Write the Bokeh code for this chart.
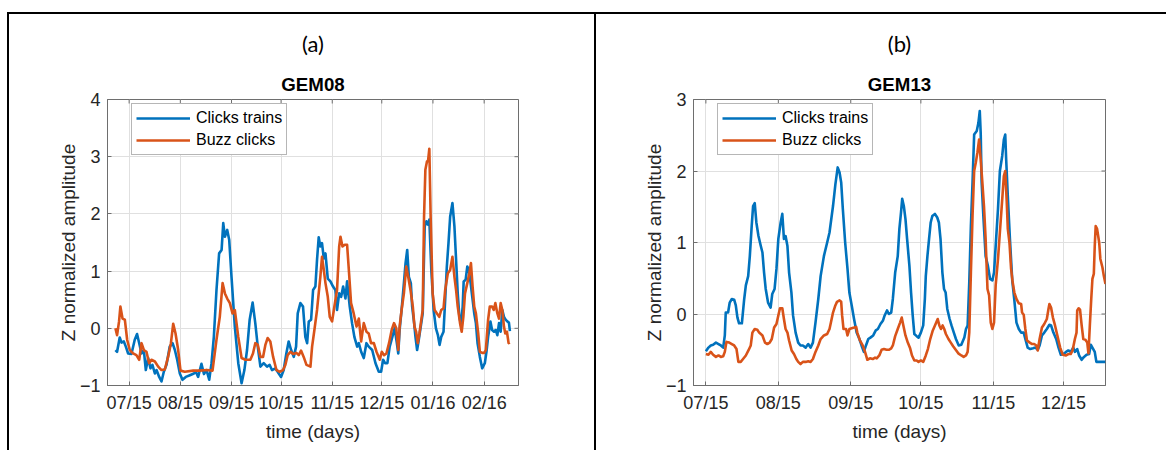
import math

import pandas as pd
from bokeh.embed import file_html
from bokeh.layouts import row
from bokeh.models import (ColumnDataSource, FixedTicker, Legend, LegendItem,
                          Range1d, Title)
from bokeh.plotting import figure
from bokeh.resources import INLINE

# ---------------------------------------------------------------- data
# Days are counted from 1 July 2015; values are z-normalised amplitudes.
DAY0 = "2015-07-01"

gem08_months = ["2015-07-01", "2015-08-01", "2015-09-01", "2015-10-01",
                "2015-11-01", "2015-12-01", "2016-01-01", "2016-02-01"]
gem08_month_labels = ["07/15", "08/15", "09/15", "10/15",
                      "11/15", "12/15", "01/16", "02/16"]
gem13_months = ["2015-07-01", "2015-08-01", "2015-09-01", "2015-10-01",
                "2015-11-01", "2015-12-01"]
gem13_month_labels = ["07/15", "08/15", "09/15", "10/15", "11/15", "12/15"]

gem08_ticks_z = [-1, 0, 1, 2, 3, 4]
gem13_ticks_z = [-1, 0, 1, 2, 3]

# GEM08 - click trains (day, z)
gem08_trains = [
    (-8.3, -0.38), (-7.3, -0.41), (-5.7, -0.16), (-4.6, -0.25), (-3.2, -0.23),
    (-2.0, -0.32), (-0.6, -0.44), (1.4, -0.45), (3.4, -0.20), (4.8, -0.10),
    (6.1, -0.26), (7.5, -0.44), (8.9, -0.38), (10.1, -0.73), (11.5, -0.52),
    (12.9, -0.70), (14.1, -0.64), (15.6, -0.79), (16.6, -0.73), (18.2, -0.85),
    (19.6, -0.93), (21.0, -0.76), (22.6, -0.64), (24.6, -0.32), (26.3, -0.26),
    (27.7, -0.38), (29.1, -0.55), (30.7, -0.79), (32.3, -0.90), (34.3, -0.85),
    (36.8, -0.82), (39.2, -0.79), (40.4, -0.76), (41.8, -0.85), (43.8, -0.62),
    (45.3, -0.80), (46.9, -0.73), (48.5, -0.90), (49.9, -0.61), (51.3, -0.15),
    (52.9, 0.67), (54.5, 1.31), (56.0, 1.37), (57.0, 1.84), (58.0, 1.60),
    (59.4, 1.72), (60.6, 1.55), (62.0, 0.90), (64.0, 0.03), (66.1, -0.61),
    (68.1, -0.96), (69.8, -0.73), (71.4, -0.38), (73.0, 0.15), (74.8, 0.45),
    (76.4, 0.09), (77.9, -0.32), (79.5, -0.67), (81.5, -0.61), (83.5, -0.67),
    (85.1, -0.64), (86.5, -0.73), (88.6, -0.70), (90.6, -0.79), (92.0, -0.85),
    (93.6, -0.73), (95.2, -0.44), (96.6, -0.23), (98.1, -0.38), (99.7, -0.50),
    (101.1, -0.32), (102.1, 0.26), (103.7, 0.44), (105.3, 0.38), (106.7, -0.15),
    (107.8, -0.26), (108.8, 0.12), (110.2, 0.15), (111.4, 0.67), (112.8, 0.73),
    (113.8, 1.20), (114.8, 1.59), (115.8, 1.43), (116.8, 1.49), (117.9, 1.22),
    (118.9, 1.31), (120.3, 0.87), (121.9, 0.82), (123.5, 0.73), (124.9, 0.67),
    (125.9, 0.32), (127.2, 0.61), (128.4, 0.55), (129.6, 0.73), (131.0, 0.52),
    (132.0, 0.82), (133.6, 0.38), (135.0, 0.09), (136.4, -0.15), (138.1, -0.32),
    (139.1, -0.26), (140.5, -0.41), (142.1, -0.52), (143.7, -0.26), (145.1, -0.32),
    (147.2, -0.38), (149.2, -0.61), (151.2, -0.76), (152.6, -0.76), (153.8, -0.55),
    (155.0, -0.61), (156.4, -0.61), (157.8, -0.32), (159.4, -0.15), (160.8, 0.00),
    (162.0, -0.23), (163.0, -0.44), (163.8, -0.03), (165.0, 0.32), (166.4, 0.79),
    (167.4, 1.14), (168.4, 1.37), (169.4, 0.90), (170.6, 0.79), (171.4, 0.38),
    (172.6, 0.09), (173.4, -0.15), (174.4, -0.38), (175.4, -0.20), (176.6, 0.03),
    (177.8, 0.26), (179.0, 1.78), (180.0, 1.87), (181.0, 1.81), (181.8, 1.90),
    (183.0, 1.02), (184.4, 0.32), (185.8, 0.00), (187.0, -0.12), (188.0, -0.29),
    (189.0, -0.15), (190.4, -0.06), (191.4, 0.50), (192.4, 1.08), (193.4, 1.49),
    (194.4, 1.95), (195.8, 2.19), (197.0, 1.78), (198.0, 1.20), (199.0, 0.61),
    (200.0, 0.20), (201.0, 0.06), (202.0, 0.38), (202.6, 0.82), (203.8, 0.85),
    (204.8, 1.08), (205.8, 1.02), (206.8, 0.79), (207.8, 0.55), (209.0, 0.26),
    (210.0, 0.09), (211.0, -0.26), (212.4, -0.50), (213.8, -0.70), (215.4, -0.61),
    (216.4, -0.41), (217.4, -0.15), (218.8, 0.12), (219.8, -0.03), (221.0, -0.06),
    (222.0, -0.03), (223.0, -0.12), (224.0, 0.09), (225.0, -0.06), (226.0, 0.32),
    (227.0, 0.20), (228.0, 0.15), (229.0, 0.12), (230.0, 0.10), (230.6, -0.05),
]

# GEM08 - buzz clicks (day, z)
gem08_buzz = [
    (-8.3, 0.00), (-7.3, -0.12), (-6.1, 0.12), (-5.3, 0.38), (-4.0, 0.17),
    (-2.6, 0.15), (-1.2, -0.20), (0.4, -0.38), (2.4, -0.44), (4.4, -0.47),
    (6.1, -0.55), (7.5, -0.26), (8.9, -0.38), (10.5, -0.41), (12.1, -0.61),
    (13.5, -0.55), (15.6, -0.58), (17.6, -0.67), (19.6, -0.73), (21.6, -0.72),
    (23.6, -0.50), (25.3, -0.26), (26.7, 0.08), (28.1, -0.09), (29.7, -0.38),
    (31.1, -0.74), (33.7, -0.76), (38.8, -0.74), (42.8, -0.74), (46.9, -0.73),
    (50.5, -0.74), (52.9, -0.20), (54.9, 0.20), (56.6, 0.79), (58.0, 0.61),
    (59.4, 0.52), (61.0, 0.44), (62.6, 0.26), (64.0, 0.32), (66.1, -0.15),
    (68.1, -0.52), (70.4, -0.55), (73.4, -0.55), (75.0, -0.44), (76.4, -0.26),
    (77.9, -0.29), (79.5, -0.50), (81.1, -0.50), (82.5, -0.29), (83.9, -0.17),
    (85.5, -0.23), (87.2, -0.50), (89.2, -0.73), (91.2, -0.76), (93.2, -0.73),
    (94.6, -0.64), (96.0, -0.47), (97.7, -0.41), (99.3, -0.45), (101.3, -0.43),
    (102.7, -0.47), (104.1, -0.39), (105.7, -0.50), (107.4, -0.64), (109.8, -0.67),
    (110.8, -0.32), (112.2, -0.03), (113.8, 0.32), (115.8, 0.90), (116.8, 1.25),
    (117.9, 1.02), (118.9, 0.79), (120.3, 0.55), (121.5, 0.20), (122.9, 0.12),
    (124.3, 0.38), (125.9, 0.67), (127.2, 1.43), (128.0, 1.60), (129.2, 1.43),
    (130.6, 1.46), (132.0, 1.46), (133.2, 0.96), (134.4, 0.44), (136.0, 0.26),
    (137.7, 0.03), (139.1, 0.17), (140.5, -0.23), (142.1, 0.09), (143.7, -0.06),
    (145.1, -0.09), (146.5, -0.26), (148.2, -0.26), (149.8, -0.41), (151.8, -0.55),
    (153.0, -0.41), (154.4, -0.47), (155.8, -0.44), (157.4, -0.26), (159.0, -0.03),
    (160.4, 0.09), (161.8, 0.00), (163.0, -0.38), (163.8, 0.03), (165.0, 0.32),
    (166.4, 0.61), (167.8, 1.08), (169.0, 0.90), (170.4, 0.67), (171.8, 0.38),
    (172.8, 0.03), (173.8, -0.06), (174.8, -0.26), (175.8, -0.09), (176.8, 0.12),
    (177.8, 0.32), (178.6, 1.95), (179.4, 2.77), (180.4, 2.92), (181.0, 2.92),
    (181.8, 3.14), (182.6, 1.95), (183.8, 0.61), (185.0, 0.32), (186.4, 0.26),
    (187.8, 0.20), (189.0, 0.32), (190.4, 0.35), (191.4, 0.67), (193.0, 0.96),
    (194.4, 1.02), (195.8, 1.25), (197.0, 0.90), (198.0, 0.67), (199.0, 0.38),
    (200.4, 0.09), (201.4, -0.06), (202.4, 0.20), (203.4, 0.61), (204.8, 0.79),
    (206.0, 0.96), (207.0, 1.14), (208.0, 0.73), (209.0, 0.38), (210.0, 0.26),
    (211.4, -0.09), (212.4, -0.41), (213.8, -0.43), (215.0, -0.43), (216.0, -0.38),
    (217.4, 0.15), (218.4, 0.38), (219.8, 0.38), (220.8, 0.32), (221.8, 0.44),
    (223.0, 0.26), (224.0, 0.17), (225.0, 0.44), (226.0, 0.32), (227.0, 0.03),
    (227.8, -0.09), (228.8, -0.06), (229.8, -0.26), (230.6, -0.25),
]

# GEM13 - click trains (day, z)
gem13_trains = [
    (0.0, -0.52), (1.1, -0.47), (2.1, -0.44), (3.1, -0.43), (4.3, -0.40),
    (5.4, -0.42), (6.4, -0.44), (7.4, -0.47), (8.1, -0.30), (8.5, 0.02),
    (9.5, 0.02), (10.2, 0.16), (11.1, 0.21), (12.1, 0.20), (12.8, 0.12),
    (13.5, -0.05), (14.2, -0.13), (15.4, -0.13), (16.4, 0.21), (17.1, 0.40),
    (18.1, 0.53), (18.8, 0.81), (19.6, 1.23), (20.2, 1.51), (20.9, 1.55),
    (21.6, 1.28), (22.5, 1.09), (23.5, 0.95), (24.2, 0.86), (24.9, 0.58),
    (25.6, 0.35), (26.6, 0.16), (27.7, 0.09), (28.4, 0.28), (29.4, 0.35),
    (30.2, 0.63), (31.0, 1.05), (32.0, 1.28), (32.7, 1.40), (33.4, 1.05),
    (34.1, 1.09), (34.9, 0.95), (35.6, 0.58), (36.6, 0.30), (37.3, -0.02),
    (38.4, -0.26), (39.5, -0.40), (40.5, -0.44), (41.5, -0.44), (42.7, -0.47),
    (43.8, -0.42), (44.8, -0.47), (45.8, -0.40), (46.9, -0.12), (48.1, 0.21),
    (49.1, 0.53), (50.5, 0.81), (51.9, 1.00), (52.9, 1.14), (54.4, 1.51),
    (55.4, 1.81), (56.4, 2.05), (57.2, 1.98), (57.9, 1.84), (58.6, 1.47),
    (59.6, 1.00), (60.6, 0.63), (61.4, 0.30), (62.4, 0.12), (63.4, -0.07),
    (64.5, -0.26), (65.7, -0.35), (66.6, -0.44), (67.6, -0.53), (68.5, -0.44),
    (69.5, -0.35), (70.4, -0.33), (71.6, -0.30), (72.7, -0.23), (73.6, -0.21),
    (74.7, -0.14), (75.8, -0.09), (76.5, -0.02), (77.5, 0.05), (78.3, 0.00),
    (79.3, 0.02), (80.0, 0.21), (81.0, 0.58), (82.1, 0.81), (82.8, 1.19),
    (83.5, 1.42), (84.0, 1.61), (84.7, 1.51), (85.4, 1.33), (86.1, 1.05),
    (87.1, 0.67), (87.8, 0.30), (88.5, -0.02), (89.2, -0.28), (90.2, -0.31),
    (91.0, -0.33), (92.0, -0.26), (93.0, -0.16), (93.7, 0.21), (94.1, 0.53),
    (94.8, 0.81), (95.5, 1.05), (96.2, 1.28), (96.9, 1.37), (98.0, 1.40),
    (99.0, 1.35), (99.7, 1.28), (100.4, 1.05), (101.2, 0.58), (101.9, 0.35),
    (102.6, 0.30), (103.3, 0.07), (104.3, -0.07), (105.1, -0.16), (106.1, -0.26),
    (107.0, -0.35), (108.2, -0.44), (109.3, -0.43), (110.6, -0.33), (111.3, -0.21),
    (112.0, -0.16), (112.7, 0.44), (113.4, 1.23), (114.1, 1.84), (114.8, 2.51),
    (115.9, 2.56), (116.6, 2.67), (117.2, 2.84), (117.6, 2.53), (118.0, 1.84),
    (118.8, 1.33), (119.7, 0.81), (120.7, 0.67), (121.6, 0.49), (122.6, 0.47),
    (123.3, 0.58), (124.0, 0.95), (125.0, 1.47), (125.8, 2.00), (126.8, 2.21),
    (127.5, 2.44), (128.1, 2.51), (128.5, 2.16), (129.2, 1.65), (130.1, 1.05),
    (131.1, 0.47), (132.0, 0.19), (132.9, -0.12), (133.9, -0.21), (134.9, -0.26),
    (136.0, -0.26), (136.7, -0.35), (137.7, -0.47), (138.8, -0.49), (140.0, -0.48),
    (141.0, -0.47), (142.0, -0.50), (142.8, -0.44), (143.8, -0.30), (144.8, -0.26),
    (145.9, -0.21), (147.0, -0.15), (147.7, -0.16), (148.7, -0.26), (149.9, -0.35),
    (150.9, -0.47), (151.9, -0.57), (153.0, -0.56), (154.1, -0.53), (155.1, -0.51),
    (156.1, -0.53), (157.2, -0.47), (157.9, -0.53), (158.9, -0.49), (159.7, -0.58),
    (160.8, -0.64), (161.8, -0.60), (162.9, -0.57), (164.0, -0.56), (164.7, -0.43),
    (165.4, -0.47), (166.4, -0.53), (167.1, -0.67), (168.5, -0.67), (171.0, -0.67),
]

# GEM13 - buzz clicks (day, z)
gem13_buzz = [
    (0.0, -0.56), (1.1, -0.57), (2.1, -0.53), (3.1, -0.57), (4.3, -0.60),
    (5.4, -0.58), (6.4, -0.60), (7.4, -0.59), (8.1, -0.53), (8.8, -0.39),
    (10.0, -0.40), (11.1, -0.42), (12.1, -0.44), (13.1, -0.49), (13.9, -0.67),
    (14.9, -0.67), (15.9, -0.63), (17.1, -0.58), (18.2, -0.51), (19.2, -0.44),
    (19.9, -0.26), (20.9, -0.21), (22.0, -0.22), (22.8, -0.26), (24.2, -0.30),
    (25.3, -0.40), (26.3, -0.42), (27.3, -0.40), (28.2, -0.35), (29.2, -0.19),
    (30.2, -0.14), (31.0, -0.02), (31.7, 0.08), (32.7, 0.08), (33.4, -0.07),
    (34.1, -0.21), (34.9, -0.26), (35.6, -0.37), (36.7, -0.51), (37.7, -0.56),
    (38.7, -0.63), (39.5, -0.67), (40.5, -0.70), (41.5, -0.67), (42.7, -0.67),
    (43.8, -0.66), (44.8, -0.67), (45.8, -0.63), (46.9, -0.53), (48.1, -0.44),
    (49.1, -0.35), (50.5, -0.30), (51.9, -0.28), (52.9, -0.21), (53.5, -0.12),
    (54.4, 0.02), (55.4, 0.12), (56.1, 0.17), (57.2, 0.19), (57.9, 0.17),
    (58.3, -0.02), (58.9, -0.21), (60.0, -0.21), (60.6, -0.30), (61.4, -0.21),
    (62.4, -0.20), (63.4, -0.19), (64.3, -0.18), (64.8, -0.26), (65.9, -0.37),
    (67.1, -0.44), (68.1, -0.53), (69.1, -0.64), (70.2, -0.62), (71.4, -0.63),
    (72.4, -0.61), (73.1, -0.62), (74.2, -0.58), (75.2, -0.50), (76.2, -0.49),
    (77.3, -0.50), (78.4, -0.50), (79.3, -0.48), (80.0, -0.44), (81.0, -0.31),
    (82.1, -0.21), (83.1, -0.12), (83.8, -0.05), (84.5, -0.16), (85.4, -0.30),
    (86.4, -0.40), (87.4, -0.48), (88.2, -0.58), (89.2, -0.65), (90.2, -0.65),
    (91.0, -0.67), (92.0, -0.65), (93.0, -0.67), (94.1, -0.58), (95.0, -0.49),
    (96.0, -0.35), (97.1, -0.23), (98.3, -0.14), (99.2, -0.07), (99.9, -0.16),
    (100.6, -0.21), (101.3, -0.16), (102.0, -0.21), (102.7, -0.28), (103.8, -0.35),
    (104.8, -0.40), (105.8, -0.45), (106.9, -0.50), (108.0, -0.55), (109.3, -0.58),
    (110.3, -0.60), (111.3, -0.58), (112.0, -0.53), (112.7, -0.26), (113.4, 0.58),
    (114.1, 1.37), (114.8, 2.00), (115.5, 2.12), (116.2, 2.26), (116.9, 2.44),
    (117.6, 2.16), (118.3, 1.84), (119.0, 1.51), (119.7, 1.05), (120.5, 0.35),
    (121.2, 0.26), (121.9, -0.12), (122.6, -0.21), (123.3, -0.12), (124.0, 0.40),
    (125.0, 0.77), (125.8, 1.14), (126.8, 1.60), (127.5, 1.93), (128.1, 2.00),
    (128.7, 1.60), (129.2, 1.19), (129.9, 1.00), (130.6, 0.63), (131.3, 0.44),
    (132.0, 0.30), (132.9, 0.21), (133.9, 0.15), (134.9, 0.14), (135.3, 0.02),
    (136.0, -0.01), (136.7, -0.21), (137.4, -0.37), (138.6, -0.40), (139.6, -0.42),
    (140.5, -0.42), (141.4, -0.44), (142.0, -0.51), (142.8, -0.35), (143.8, -0.19),
    (144.8, -0.14), (145.9, -0.07), (146.6, 0.07), (147.0, 0.14), (147.7, 0.09),
    (148.5, -0.05), (149.4, -0.16), (150.4, -0.30), (151.6, -0.47), (152.7, -0.57),
    (154.1, -0.58), (155.1, -0.56), (156.1, -0.56), (156.9, -0.51), (157.9, -0.35),
    (158.6, -0.26), (158.9, 0.05), (159.5, 0.08), (160.1, 0.06), (160.8, -0.16),
    (161.5, -0.35), (162.4, -0.36), (163.2, -0.40), (163.7, -0.55), (164.3, -0.16),
    (164.9, 0.21), (165.4, 0.49), (166.0, 0.56), (166.4, 0.95), (166.8, 1.23),
    (167.4, 1.19), (168.3, 1.00), (168.8, 0.77), (169.7, 0.65), (170.3, 0.53),
    (171.0, 0.42),
]

# ---------------------------------------------------------------- styling
BLUE = "#0072BD"
ORANGE = "#D95319"
INK = "#262626"
BOX = "#6e6e6e"
GRID = "#e0e0e0"
SANS = "Liberation Sans"
CAPTION_FONT = "Lato"
CANVAS_H = 438
BORDER_TOP = 85
BORDER_BOTTOM = 67
FRAME_H = CANVAS_H - BORDER_TOP - BORDER_BOTTOM


def month_offsets(dates):
    start = pd.Timestamp(DAY0)
    return [int((pd.Timestamp(d) - start).days) for d in dates]


def style_axis(ax, ticks):
    ax.ticker = FixedTicker(ticks=ticks)
    ax.axis_line_color = BOX
    ax.axis_line_width = 1
    ax.major_tick_line_color = BOX
    ax.major_tick_in = 4
    ax.major_tick_out = 0
    ax.minor_tick_line_color = None
    ax.major_label_text_font = SANS
    ax.major_label_text_font_size = "18px"
    ax.major_label_text_color = INK
    ax.major_label_standoff = 7
    ax.axis_label_text_font = SANS
    ax.axis_label_text_font_size = "19px"
    ax.axis_label_text_font_style = "normal"
    ax.axis_label_text_color = INK


def make_panel(tag, name, trains, buzz, months, month_labels, zticks,
               xlim, width, left, right, styles, tag_offset):
    day_ticks = month_offsets(months)
    ylim = (zticks[0], zticks[-1])
    p = figure(width=width, height=CANVAS_H,
               x_range=Range1d(*xlim), y_range=Range1d(*ylim),
               output_backend="svg", toolbar_location=None,
               min_border_left=left, min_border_right=right,
               min_border_top=BORDER_TOP, min_border_bottom=BORDER_BOTTOM,
               background_fill_color="white", border_fill_color="white",
               outline_line_color=BOX, outline_line_width=1, styles=styles)

    style_axis(p.xaxis[0], day_ticks)
    style_axis(p.yaxis[0], zticks)
    p.xaxis[0].major_label_overrides = dict(zip(day_ticks, month_labels))
    p.xaxis[0].axis_label = "time (days)"
    p.xaxis[0].axis_label_standoff = 5
    p.yaxis[0].axis_label = "Z normalized amplitude"
    p.yaxis[0].axis_label_standoff = -2

    p.xgrid.ticker = FixedTicker(ticks=day_ticks)
    p.ygrid.ticker = FixedTicker(ticks=zticks)
    for g in (p.xgrid[0], p.ygrid[0]):
        g.grid_line_color = GRID
        g.grid_line_width = 1

    # inward tick marks on the top and right edges of the box: short dashes
    # centred on the edge, the outer half is clipped away by the frame
    p.scatter(day_ticks, [ylim[1]] * len(day_ticks), marker="dash",
              angle=math.pi / 2, size=8, line_color=BOX, line_width=1)
    p.scatter([xlim[1]] * len(zticks), zticks, marker="dash",
              size=8, line_color=BOX, line_width=1)

    t_day, t_z = zip(*trains)
    b_day, b_z = zip(*buzz)
    src_t = ColumnDataSource(dict(day=list(t_day), z=list(t_z)))
    src_b = ColumnDataSource(dict(day=list(b_day), z=list(b_z)))
    r_t = p.line("day", "z", source=src_t, line_color=BLUE, line_width=2.6,
                 line_join="round")
    r_b = p.line("day", "z", source=src_b, line_color=ORANGE, line_width=2.6,
                 line_join="round")

    legend = Legend(items=[LegendItem(label="Clicks trains", renderers=[r_t]),
                           LegendItem(label="Buzz clicks", renderers=[r_b])],
                    location=(24, FRAME_H - 6 - 50),
                    glyph_width=54, glyph_height=20, label_height=20,
                    label_standoff=6, spacing=2, padding=4, margin=0,
                    border_line_color=BOX, border_line_width=1,
                    background_fill_color="white", background_fill_alpha=1,
                    label_text_font=SANS, label_text_font_size="16px",
                    label_text_color="black")
    p.add_layout(legend)

    # panel tag (outermost) and station name (next to the frame)
    p.title.text = tag
    p.title.align = "center"
    p.title.offset = tag_offset
    p.title.text_font = CAPTION_FONT
    p.title.text_font_size = "22px"
    p.title.text_font_style = "normal"
    p.title.text_color = "black"
    p.title.standoff = 21
    p.add_layout(Title(text=name, align="center", text_font=SANS,
                       text_font_size="18.7px", text_font_style="bold",
                       text_color="black", standoff=9), "above")
    return p


rule = "2px solid #000"
panel_a = make_panel("(a)", "GEM08", gem08_trains, gem08_buzz,
                     gem08_months, gem08_month_labels, gem08_ticks_z,
                     xlim=(-13.1, 235.8), width=587, left=98, right=78,
                     styles={"margin-left": "7px", "margin-top": "12px",
                             "border-top": rule, "border-left": rule},
                     tag_offset=-7)
panel_b = make_panel("(b)", "GEM13", gem13_trains, gem13_buzz,
                     gem13_months, gem13_month_labels, gem13_ticks_z,
                     xlim=(-5.3, 171.0), width=572, left=97, right=63,
                     styles={"margin-top": "12px",
                             "border-top": rule, "border-left": rule},
                     tag_offset=-8)

layout = row(panel_a, panel_b)
open("out.html", "w").write(file_html(layout, INLINE))
